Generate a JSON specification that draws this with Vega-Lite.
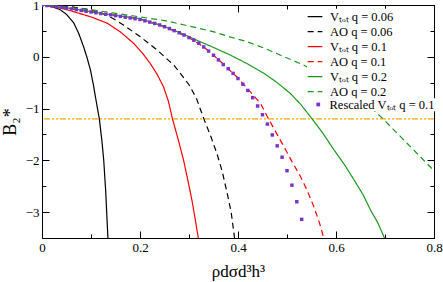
{
  "$schema": "https://vega.github.io/schema/vega-lite/v6.json",
  "autosize": {"type": "none"},
  "padding": {"left": 42, "top": 5, "right": 9, "bottom": 44},
  "width": 392,
  "height": 233,
  "config": {
    "font": "Liberation Serif",
    "view": {"stroke": "black", "strokeWidth": 1},
    "axis": {"domainColor": "black", "tickColor": "black", "labelColor": "black", "titleColor": "black", "labelFont": "Liberation Serif", "titleFont": "Liberation Serif", "grid": false},
    "legend": {"labelFont": "Liberation Serif", "labelColor": "black"}
  },
  "datasets": {
    "lines": [
      {"s":"v06","x":0,"y":1},{"s":"v06","x":0.02,"y":0.97},{"s":"v06","x":0.037,"y":0.91},{"s":"v06","x":0.05,"y":0.82},{"s":"v06","x":0.065,"y":0.65},{"s":"v06","x":0.075,"y":0.45},{"s":"v06","x":0.085,"y":0.19},{"s":"v06","x":0.092,"y":-0.02},{"s":"v06","x":0.099,"y":-0.26},{"s":"v06","x":0.105,"y":-0.55},{"s":"v06","x":0.111,"y":-0.88},{"s":"v06","x":0.117,"y":-1.2},{"s":"v06","x":0.122,"y":-1.6},{"s":"v06","x":0.126,"y":-2.0},{"s":"v06","x":0.13,"y":-2.6},{"s":"v06","x":0.1345,"y":-3.5},
      {"s":"a06","x":0,"y":1},{"s":"a06","x":0.03,"y":0.99},{"s":"a06","x":0.06,"y":0.965},{"s":"a06","x":0.09,"y":0.92},{"s":"a06","x":0.12,"y":0.85},{"s":"a06","x":0.145,"y":0.74},{"s":"a06","x":0.167,"y":0.61},{"s":"a06","x":0.2,"y":0.39},{"s":"a06","x":0.235,"y":0.13},{"s":"a06","x":0.27,"y":-0.17},{"s":"a06","x":0.3,"y":-0.54},{"s":"a06","x":0.315,"y":-0.8},{"s":"a06","x":0.33,"y":-1.19},{"s":"a06","x":0.345,"y":-1.55},{"s":"a06","x":0.357,"y":-1.87},{"s":"a06","x":0.368,"y":-2.22},{"s":"a06","x":0.378,"y":-2.64},{"s":"a06","x":0.386,"y":-3.0},{"s":"a06","x":0.393,"y":-3.5},
      {"s":"v10","x":0,"y":1},{"s":"v10","x":0.03,"y":0.96},{"s":"v10","x":0.065,"y":0.87},{"s":"v10","x":0.1,"y":0.77},{"s":"v10","x":0.133,"y":0.65},{"s":"v10","x":0.16,"y":0.48},{"s":"v10","x":0.187,"y":0.26},{"s":"v10","x":0.205,"y":0.07},{"s":"v10","x":0.221,"y":-0.13},{"s":"v10","x":0.235,"y":-0.34},{"s":"v10","x":0.248,"y":-0.58},{"s":"v10","x":0.258,"y":-0.86},{"s":"v10","x":0.266,"y":-1.19},{"s":"v10","x":0.278,"y":-1.6},{"s":"v10","x":0.289,"y":-2.0},{"s":"v10","x":0.298,"y":-2.4},{"s":"v10","x":0.306,"y":-2.77},{"s":"v10","x":0.312,"y":-3.1},{"s":"v10","x":0.319,"y":-3.5},
      {"s":"a10","x":0,"y":1},{"s":"a10","x":0.05,"y":0.935},{"s":"a10","x":0.1,"y":0.865},{"s":"a10","x":0.15,"y":0.8},{"s":"a10","x":0.2,"y":0.725},{"s":"a10","x":0.25,"y":0.58},{"s":"a10","x":0.3,"y":0.37},{"s":"a10","x":0.33,"y":0.19},{"s":"a10","x":0.35,"y":0.03},{"s":"a10","x":0.37,"y":-0.14},{"s":"a10","x":0.4,"y":-0.41},{"s":"a10","x":0.42,"y":-0.62},{"s":"a10","x":0.446,"y":-0.9},{"s":"a10","x":0.46,"y":-1.16},{"s":"a10","x":0.477,"y":-1.45},{"s":"a10","x":0.494,"y":-1.74},{"s":"a10","x":0.51,"y":-2.02},{"s":"a10","x":0.528,"y":-2.32},{"s":"a10","x":0.542,"y":-2.6},{"s":"a10","x":0.555,"y":-2.9},{"s":"a10","x":0.566,"y":-3.2},{"s":"a10","x":0.575,"y":-3.5},
      {"s":"v20","x":0,"y":1},{"s":"v20","x":0.05,"y":0.945},{"s":"v20","x":0.1,"y":0.87},{"s":"v20","x":0.15,"y":0.8},{"s":"v20","x":0.2,"y":0.735},{"s":"v20","x":0.25,"y":0.585},{"s":"v20","x":0.283,"y":0.46},{"s":"v20","x":0.323,"y":0.29},{"s":"v20","x":0.35,"y":0.18},{"s":"v20","x":0.385,"y":0.03},{"s":"v20","x":0.42,"y":-0.14},{"s":"v20","x":0.453,"y":-0.32},{"s":"v20","x":0.48,"y":-0.5},{"s":"v20","x":0.507,"y":-0.71},{"s":"v20","x":0.528,"y":-0.92},{"s":"v20","x":0.548,"y":-1.16},{"s":"v20","x":0.572,"y":-1.46},{"s":"v20","x":0.596,"y":-1.8},{"s":"v20","x":0.617,"y":-2.08},{"s":"v20","x":0.637,"y":-2.38},{"s":"v20","x":0.655,"y":-2.66},{"s":"v20","x":0.671,"y":-2.97},{"s":"v20","x":0.685,"y":-3.2},{"s":"v20","x":0.699,"y":-3.5},
      {"s":"a20","x":0,"y":1},{"s":"a20","x":0.05,"y":0.96},{"s":"a20","x":0.1,"y":0.91},{"s":"a20","x":0.15,"y":0.84},{"s":"a20","x":0.2,"y":0.77},{"s":"a20","x":0.25,"y":0.7},{"s":"a20","x":0.283,"y":0.63},{"s":"a20","x":0.32,"y":0.55},{"s":"a20","x":0.351,"y":0.48},{"s":"a20","x":0.385,"y":0.38},{"s":"a20","x":0.419,"y":0.29},{"s":"a20","x":0.45,"y":0.18},{"s":"a20","x":0.487,"y":0.03},{"s":"a20","x":0.534,"y":-0.16},{"s":"a20","x":0.58,"y":-0.4},{"s":"a20","x":0.62,"y":-0.62},{"s":"a20","x":0.66,"y":-0.88},{"s":"a20","x":0.695,"y":-1.19},{"s":"a20","x":0.72,"y":-1.43},{"s":"a20","x":0.746,"y":-1.68},{"s":"a20","x":0.773,"y":-1.94},{"s":"a20","x":0.8,"y":-2.2}
    ],
    "pts": [
      {"s":"r10","x":0.00,"y":1.00},{"s":"r10","x":0.01,"y":0.99},{"s":"r10","x":0.02,"y":0.98},{"s":"r10","x":0.03,"y":0.965},{"s":"r10","x":0.04,"y":0.955},{"s":"r10","x":0.05,"y":0.94},{"s":"r10","x":0.06,"y":0.925},{"s":"r10","x":0.07,"y":0.91},{"s":"r10","x":0.08,"y":0.895},{"s":"r10","x":0.09,"y":0.88},
      {"s":"r10","x":0.10,"y":0.865},{"s":"r10","x":0.11,"y":0.85},{"s":"r10","x":0.12,"y":0.835},{"s":"r10","x":0.13,"y":0.82},{"s":"r10","x":0.14,"y":0.81},{"s":"r10","x":0.15,"y":0.795},{"s":"r10","x":0.16,"y":0.78},{"s":"r10","x":0.17,"y":0.765},{"s":"r10","x":0.18,"y":0.75},{"s":"r10","x":0.19,"y":0.735},
      {"s":"r10","x":0.20,"y":0.72},{"s":"r10","x":0.21,"y":0.695},{"s":"r10","x":0.22,"y":0.67},{"s":"r10","x":0.23,"y":0.645},{"s":"r10","x":0.24,"y":0.615},{"s":"r10","x":0.25,"y":0.58},{"s":"r10","x":0.26,"y":0.545},{"s":"r10","x":0.27,"y":0.505},{"s":"r10","x":0.28,"y":0.465},{"s":"r10","x":0.29,"y":0.42},
      {"s":"r10","x":0.30,"y":0.37},{"s":"r10","x":0.31,"y":0.32},{"s":"r10","x":0.32,"y":0.26},{"s":"r10","x":0.33,"y":0.19},{"s":"r10","x":0.34,"y":0.11},{"s":"r10","x":0.35,"y":0.03},{"s":"r10","x":0.36,"y":-0.06},{"s":"r10","x":0.37,"y":-0.15},{"s":"r10","x":0.38,"y":-0.23},{"s":"r10","x":0.39,"y":-0.32},
      {"s":"r10","x":0.40,"y":-0.42},{"s":"r10","x":0.41,"y":-0.53},{"s":"r10","x":0.42,"y":-0.65},{"s":"r10","x":0.43,"y":-0.79},{"s":"r10","x":0.44,"y":-0.95},{"s":"r10","x":0.45,"y":-1.12},{"s":"r10","x":0.46,"y":-1.30},{"s":"r10","x":0.47,"y":-1.51},{"s":"r10","x":0.48,"y":-1.72},{"s":"r10","x":0.49,"y":-1.94},
      {"s":"r10","x":0.50,"y":-2.20},{"s":"r10","x":0.51,"y":-2.48},{"s":"r10","x":0.52,"y":-2.80},{"s":"r10","x":0.53,"y":-3.14}
    ],
    "ref": [{"y": -1.2}]
  },
  "resolve": {"axis": {"x": "independent", "y": "independent"}},
  "layer": [
    {
      "data": {"name": "ref"},
      "mark": {"type": "rule", "color": "#ffa500", "strokeWidth": 1.2, "strokeDash": [6, 2, 2, 2, 2, 2]},
      "encoding": {
        "y": {"field": "y", "type": "quantitative", "scale": {"domain": [-3.5, 1], "nice": false, "zero": false}, "axis": null}
      }
    },
    {
      "data": {"name": "lines"},
      "mark": {"type": "line", "strokeWidth": 1.2, "clip": true},
      "encoding": {
        "x": {"field": "x", "type": "quantitative", "scale": {"domain": [0, 0.8], "nice": false, "zero": false},
          "axis": {"orient": "bottom", "values": [0, 0.1, 0.2, 0.3, 0.4, 0.5, 0.6, 0.7, 0.8],
            "labelExpr": "abs(datum.value*5 - round(datum.value*5)) < 0.001 ? (datum.value == 0 ? '0' : format(datum.value, '.1f')) : ''",
            "tickSize": {"condition": {"test": "abs(datum.value*5 - round(datum.value*5)) < 0.001", "value": -7}, "value": -4},
            "labelPadding": 10, "labelFontSize": 13, "labelFlush": false, "labelOverlap": false,
            "title": "ρdσd³h³", "titleFontSize": 17, "titleFontWeight": "normal", "titlePadding": 6}},
        "y": {"field": "y", "type": "quantitative", "scale": {"domain": [-3.5, 1], "nice": false, "zero": false},
          "axis": {"orient": "left", "values": [-3, -2.5, -2, -1.5, -1, -0.5, 0, 0.5, 1],
            "labelExpr": "abs(datum.value - round(datum.value)) < 0.001 ? format(datum.value, 'd') : ''",
            "tickSize": {"condition": {"test": "abs(datum.value - round(datum.value)) < 0.001", "value": -7}, "value": -4},
            "labelPadding": 10, "labelFontSize": 13, "labelFlush": false, "labelOverlap": false,
            "title": "B₂*", "titleFontSize": 18, "titleFontWeight": "normal", "titlePadding": 6}},
        "color": {"field": "s", "type": "nominal",
          "scale": {"domain": ["v06", "a06", "v10", "a10", "v20", "a20"], "range": ["#000000", "#000000", "#ff0000", "#ff0000", "#1a9a1a", "#1a9a1a"]},
          "legend": {"orient": "none", "legendX": 265, "legendY": 3.65, "title": null, "symbolType": "stroke", "symbolSize": 216, "symbolStrokeWidth": 1.3,
            "labelFontSize": 12.5, "labelOffset": 7, "rowPadding": 0, "padding": 0, "fillColor": "white",
            "labelExpr": "{'v06':'Vₜₒₜ q = 0.06','a06':'AO q = 0.06','v10':'Vₜₒₜ q = 0.1','a10':'AO q = 0.1','v20':'Vₜₒₜ q = 0.2','a20':'AO q = 0.2'}[datum.label]"}},
        "strokeDash": {"field": "s", "type": "nominal",
          "scale": {"domain": ["v06", "a06", "v10", "a10", "v20", "a20"], "range": [[1, 0], [6, 4], [1, 0], [6, 4], [1, 0], [6, 4]]},
          "legend": {"orient": "none", "legendX": 265, "legendY": 3.65, "title": null, "symbolType": "stroke", "symbolSize": 216, "symbolStrokeWidth": 1.3,
            "labelFontSize": 12.5, "labelOffset": 7, "rowPadding": 0, "padding": 0, "fillColor": "white",
            "labelExpr": "{'v06':'Vₜₒₜ q = 0.06','a06':'AO q = 0.06','v10':'Vₜₒₜ q = 0.1','a10':'AO q = 0.1','v20':'Vₜₒₜ q = 0.2','a20':'AO q = 0.2'}[datum.label]"}}
      }
    },
    {
      "data": {"name": "pts"},
      "mark": {"type": "point", "shape": "square", "filled": true, "size": 12, "opacity": 1, "clip": true},
      "encoding": {
        "x": {"field": "x", "type": "quantitative", "axis": null},
        "y": {"field": "y", "type": "quantitative", "axis": null},
        "fill": {"field": "s", "type": "nominal", "scale": {"domain": ["r10"], "range": ["#7a33cc"]},
          "legend": {"orient": "none", "legendX": 270, "legendY": 93.25, "title": null, "symbolType": "square", "symbolSize": 14,
            "labelFontSize": 12.5, "labelOffset": 5, "padding": 0, "fillColor": "white",
            "labelExpr": "'Rescaled Vₜₒₜ q = 0.1'"}}
      }
    },
    {
      "data": {"name": "lines"},
      "mark": {"type": "point", "opacity": 0},
      "encoding": {
        "x": {"field": "x", "type": "quantitative",
          "axis": {"orient": "top", "values": [0, 0.1, 0.2, 0.3, 0.4, 0.5, 0.6, 0.7, 0.8], "labels": false, "title": null,
            "tickSize": {"condition": {"test": "abs(datum.value*5 - round(datum.value*5)) < 0.001", "value": -7}, "value": -4}}},
        "y": {"field": "y", "type": "quantitative",
          "axis": {"orient": "right", "values": [-3, -2.5, -2, -1.5, -1, -0.5, 0, 0.5, 1], "labels": false, "title": null,
            "tickSize": {"condition": {"test": "abs(datum.value - round(datum.value)) < 0.001", "value": -7}, "value": -4}}}
      }
    }
  ]
}
